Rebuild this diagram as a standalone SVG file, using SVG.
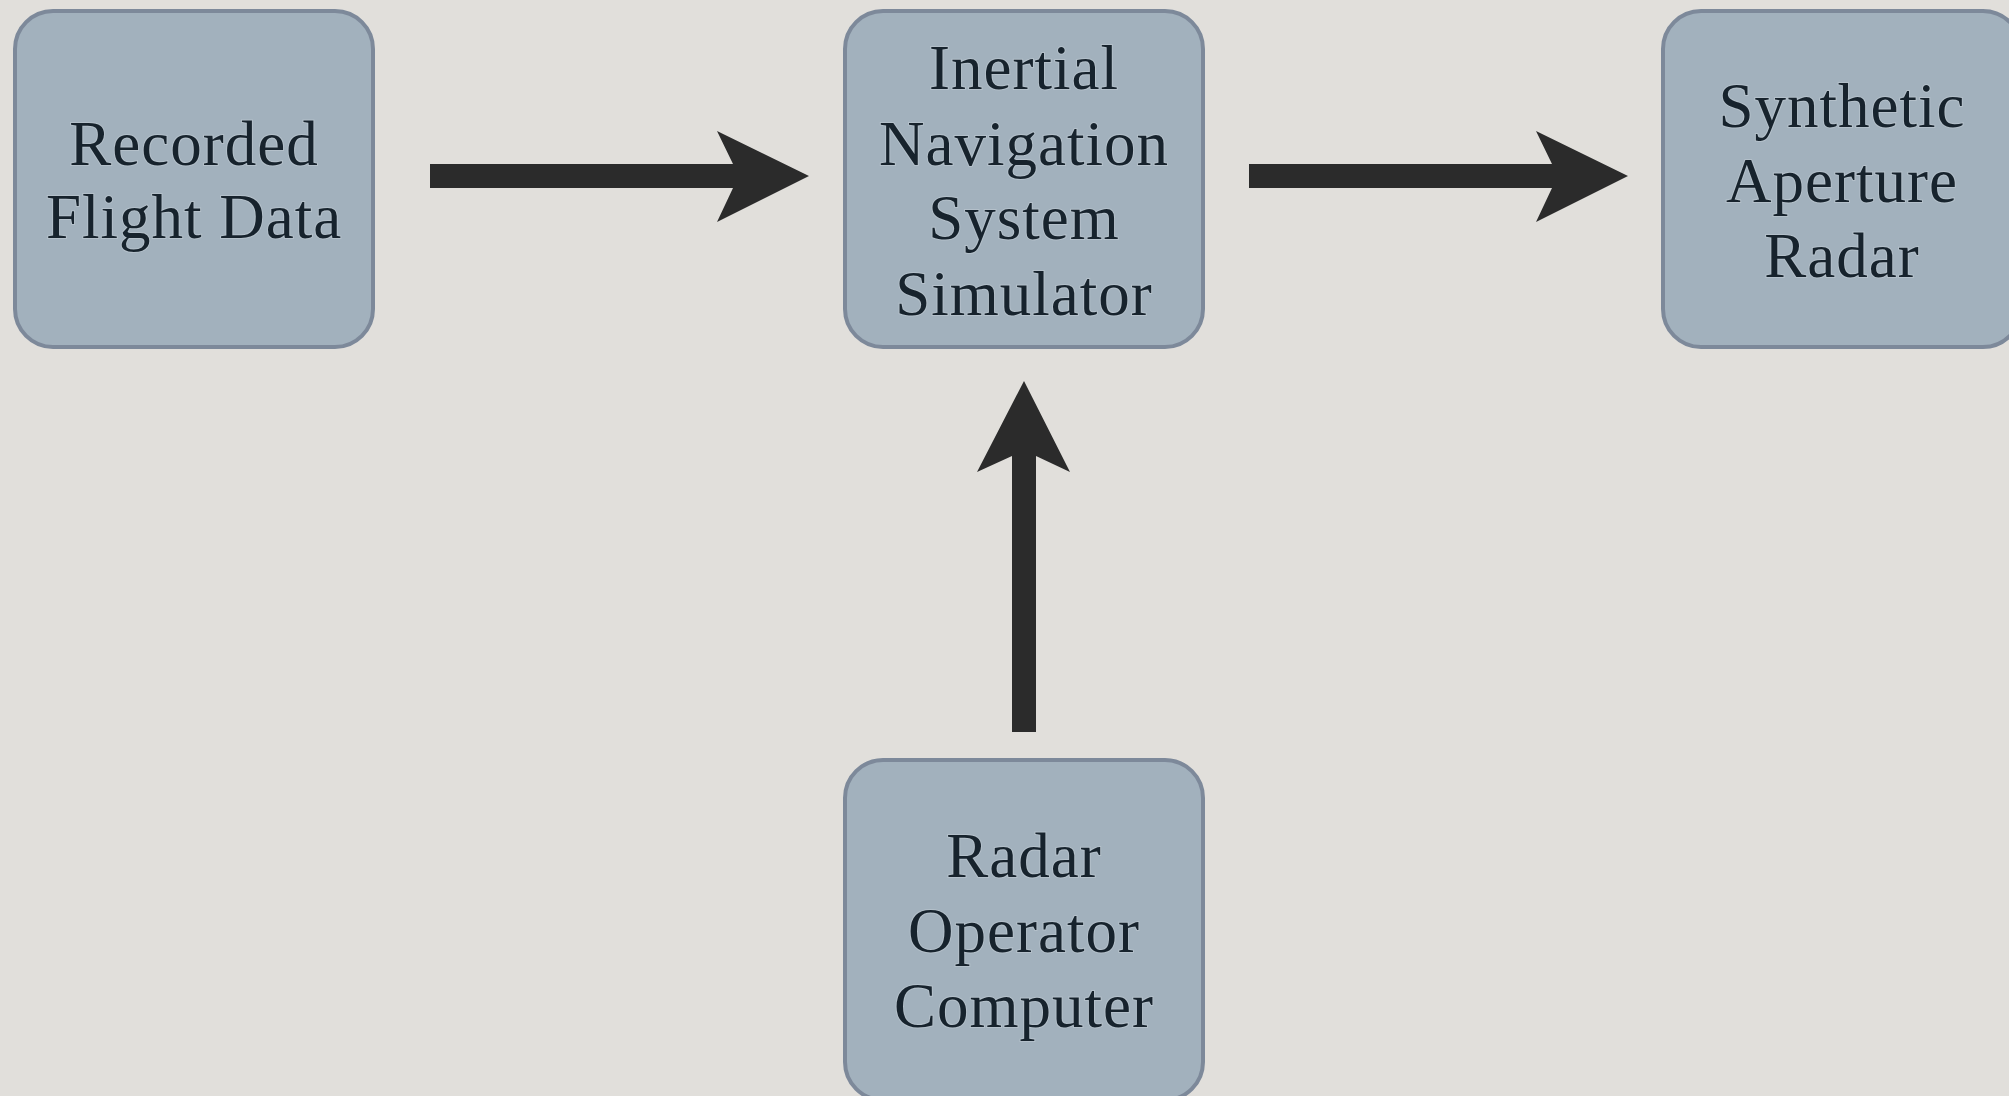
<svg xmlns="http://www.w3.org/2000/svg" width="2009" height="1096" viewBox="0 0 2009 1096">
<style>
.box{fill:#a2b1bd;stroke:#7d899a;stroke-width:4}
.lbl{font-family:"Liberation Serif","Times New Roman",serif;font-size:63px;fill:#17232d;text-anchor:middle;letter-spacing:1px;stroke:#c5d0d8;stroke-width:2px;stroke-opacity:0.5;paint-order:stroke}
.arr{fill:#2b2b2b}
</style>
<rect x="0" y="0" width="2009" height="1096" fill="#e1dfdb"/>
<g id="recorded-flight-data">
<rect class="box" x="15" y="11" width="358" height="336" rx="38"/>
<text class="lbl" x="194" y="165">Recorded</text>
<text class="lbl" x="194" y="238">Flight Data</text>
</g>
<g id="ins-simulator">
<rect class="box" x="845" y="11" width="358" height="336" rx="38"/>
<text class="lbl" x="1024" y="89">Inertial</text>
<text class="lbl" x="1024" y="165">Navigation</text>
<text class="lbl" x="1024" y="239">System</text>
<text class="lbl" x="1024" y="315">Simulator</text>
</g>
<g id="sar">
<rect class="box" x="1663" y="11" width="358" height="336" rx="38"/>
<text class="lbl" x="1842" y="127">Synthetic</text>
<text class="lbl" x="1842" y="202">Aperture</text>
<text class="lbl" x="1842" y="277">Radar</text>
</g>
<g id="radar-operator-computer">
<rect class="box" x="845" y="760" width="358" height="340" rx="38"/>
<text class="lbl" x="1024" y="877">Radar</text>
<text class="lbl" x="1024" y="952">Operator</text>
<text class="lbl" x="1024" y="1027">Computer</text>
</g>
<g id="connectors">
<polygon class="arr" points="430,164 733,164 717,131 809,176 717,222 733,188 430,188"/>
<polygon class="arr" points="1249,164 1552,164 1536,131 1628,176 1536,222 1552,188 1249,188"/>
<polygon class="arr" points="1012,732 1012,456 977,472 1024,381 1070,472 1036,456 1036,732"/>
</g>
</svg>
